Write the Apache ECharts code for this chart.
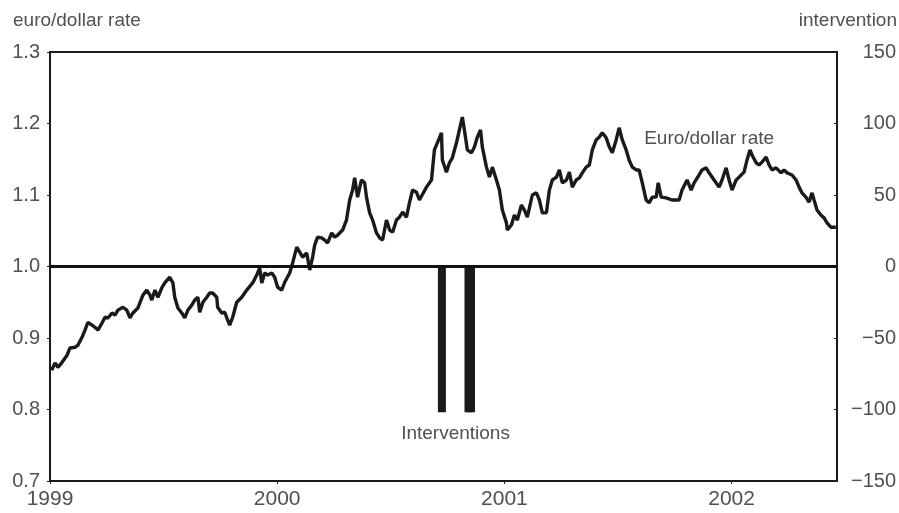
<!DOCTYPE html>
<html><head><meta charset="utf-8">
<script src="https://cdn.jsdelivr.net/npm/echarts@6/dist/echarts.min.js"></script>
<style>html,body{margin:0;padding:0;background:#fff;}#c{width:899px;height:513px;}</style>
</head><body><div id="c"></div>
<script>
// Decimal-year positions and euro/dollar rate values
const rateYears = [
1999.007,1999.022,1999.035,1999.053,1999.075,1999.088,1999.110,1999.123,1999.141,1999.154,1999.167,1999.185,1999.198,1999.211,1999.229,1999.242,1999.255,1999.273,1999.286,1999.299,1999.321,1999.338,1999.352,1999.365,1999.387,1999.409,1999.426,1999.440,1999.448,1999.462,1999.475,1999.492,1999.505,1999.527,1999.541,1999.549,1999.563,1999.580,1999.593,1999.607,1999.624,1999.637,1999.651,1999.659,1999.673,1999.690,1999.703,1999.716,1999.734,1999.738,1999.756,1999.769,1999.782,1999.791,1999.804,1999.822,1999.844,
1999.866,1999.892,1999.910,1999.923,1999.932,1999.945,1999.958,1999.976,1999.989,2000.002,2000.020,2000.033,2000.055,2000.068,2000.086,2000.099,2000.112,2000.130,2000.143,2000.156,2000.165,2000.178,2000.196,2000.209,2000.222,2000.240,2000.253,2000.266,2000.288,2000.305,2000.319,2000.332,2000.341,2000.354,2000.371,2000.385,2000.393,2000.407,2000.420,2000.437,2000.451,2000.464,2000.481,2000.495,2000.508,2000.525,2000.538,2000.552,2000.569,2000.582,2000.596,2000.613,2000.626,
2000.657,2000.679,2000.692,2000.705,2000.723,2000.727,2000.745,2000.758,2000.771,2000.789,2000.802,2000.815,2000.824,2000.837,2000.855,2000.868,2000.881,2000.895,2000.903,2000.921,2000.934,2000.947,2000.965,2000.978,2000.991,2001.009,2001.013,2001.031,2001.044,2001.057,2001.075,2001.088,2001.101,2001.123,2001.141,2001.154,2001.167,2001.185,2001.198,2001.211,2001.229,2001.242,2001.255,2001.273,2001.286,2001.299,2001.316,2001.330,2001.343,2001.360,2001.374,2001.387,2001.404,
2001.418,2001.431,2001.448,2001.462,2001.475,2001.492,2001.505,2001.519,2001.536,2001.549,2001.563,2001.580,2001.593,2001.607,2001.624,2001.637,2001.651,2001.668,2001.677,2001.690,2001.712,2001.738,2001.769,2001.782,2001.804,2001.822,2001.835,2001.857,2001.870,2001.888,2001.901,2001.923,2001.945,2001.958,2001.976,2001.989,2002.002,2002.020,2002.033,2002.055,2002.068,2002.081,2002.090,2002.108,2002.121,2002.134,2002.152,2002.165,2002.178,2002.196,2002.218,2002.231,2002.244,2002.266,2002.284,2002.297,2002.310,2002.327,2002.341,2002.354,2002.363,2002.376,2002.393,2002.407,2002.420,2002.437,2002.451,2002.459
];
const rateValues = [
0.855,0.865,0.859,0.866,0.876,0.886,0.887,0.890,0.901,0.911,0.922,0.918,0.915,0.911,0.921,0.929,0.928,0.935,0.932,0.939,0.943,0.939,0.928,0.935,0.942,0.960,0.967,0.960,0.953,0.967,0.957,0.970,0.977,0.985,0.977,0.957,0.942,0.935,0.928,0.939,0.946,0.953,0.957,0.936,0.950,0.957,0.963,0.963,0.957,0.943,0.935,0.936,0.925,0.918,0.929,0.950,0.957,
0.967,0.977,0.988,0.998,0.977,0.991,0.988,0.991,0.985,0.971,0.967,0.978,0.991,1.005,1.027,1.020,1.013,1.019,0.995,1.013,1.030,1.041,1.040,1.037,1.033,1.047,1.041,1.044,1.051,1.065,1.093,1.107,1.124,1.097,1.121,1.117,1.097,1.075,1.065,1.047,1.040,1.037,1.065,1.051,1.048,1.065,1.069,1.076,1.069,1.089,1.107,1.104,1.093,
1.111,1.121,1.163,1.173,1.187,1.149,1.132,1.145,1.152,1.173,1.191,1.209,1.191,1.163,1.159,1.167,1.181,1.191,1.167,1.139,1.125,1.139,1.121,1.107,1.079,1.061,1.051,1.058,1.072,1.065,1.086,1.079,1.069,1.100,1.103,1.093,1.075,1.075,1.107,1.121,1.125,1.135,1.117,1.121,1.132,1.111,1.121,1.124,1.131,1.139,1.142,1.163,1.177,
1.181,1.187,1.180,1.167,1.159,1.177,1.194,1.177,1.163,1.149,1.139,1.135,1.135,1.117,1.093,1.089,1.097,1.097,1.117,1.097,1.096,1.093,1.093,1.107,1.121,1.107,1.117,1.128,1.135,1.138,1.131,1.121,1.111,1.121,1.138,1.121,1.107,1.121,1.125,1.132,1.149,1.163,1.156,1.145,1.142,1.146,1.153,1.142,1.135,1.138,1.131,1.135,1.131,1.128,1.121,1.111,1.103,1.097,1.090,1.103,1.093,1.079,1.072,1.068,1.061,1.055,1.055,1.055
];
// Interventions (decimal year, amount)
const interventionYears = [2000.725, 2000.842, 2000.853];
const interventionValues = [-102, -102, -102];
// Axis ranges / ticks
const xYears = [1999, 2000, 2001, 2002];
const rateTicks = [0.7, 0.8, 0.9, 1.0, 1.1, 1.2, 1.3];
const interventionTicks = [-150, -100, -50, 0, 50, 100, 150];
const xEnd = 2002.464;

const txt = '#505050';
const font = 'Liberation Sans, Arial, Helvetica, sans-serif';
const chart = echarts.init(document.getElementById('c'), null, {renderer: 'canvas'});
chart.setOption({
  animation: false,
  backgroundColor: '#fff',
  graphic: [
    {type: 'text', left: 13, top: 11, style: {text: 'euro/dollar rate', fill: txt, font: '19px Liberation Sans, Arial, sans-serif'}},
    {type: 'text', right: 2, top: 11, style: {text: 'intervention', fill: txt, font: '19px Liberation Sans, Arial, sans-serif'}}
  ],
  grid: {left: 50, right: 61, top: 52, bottom: 32, show: true, borderColor: '#1a1a1a', borderWidth: 2, backgroundColor: 'transparent'},
  xAxis: {
    type: 'value', min: xYears[0], max: xEnd, interval: 1,
    splitLine: {show: false},
    axisLine: {show: true, onZero: false, lineStyle: {color: '#1a1a1a', width: 2}},
    axisTick: {show: true, length: 3, lineStyle: {color: '#1a1a1a'}},
    axisLabel: {showMaxLabel: false, color: txt, fontFamily: font, fontSize: 21, margin: 8, formatter: v => String(v)}
  },
  yAxis: [{
    type: 'value', min: rateTicks[0], max: rateTicks[rateTicks.length-1], interval: 0.1,
    splitLine: {show: false},
    axisLine: {show: true, lineStyle: {color: '#1a1a1a', width: 2}},
    axisTick: {show: true, length: 3, lineStyle: {color: '#1a1a1a'}},
    axisLabel: {color: txt, fontFamily: font, fontSize: 20, margin: 10, formatter: v => v.toFixed(1)}
  }, {
    type: 'value', position: 'right', min: interventionTicks[0], max: interventionTicks[interventionTicks.length-1], interval: 50,
    splitLine: {show: false},
    axisLine: {show: true, lineStyle: {color: '#1a1a1a', width: 2}},
    axisTick: {show: true, inside: true, length: 3, lineStyle: {color: '#1a1a1a'}},
    axisLabel: {color: txt, fontFamily: font, fontSize: 20, margin: 59, align: 'right', formatter: v => String(v).replace('-', '\u2212')}
  }],
  series: [{
    type: 'line', xAxisIndex: 0, yAxisIndex: 0,
    data: rateYears.map((y, i) => [y, rateValues[i]]),
    showSymbol: false, symbol: 'none',
    lineStyle: {color: '#1a1a1a', width: 3.4},
    markLine: {silent: true, symbol: 'none', label: {show: false},
      lineStyle: {color: '#111', width: 3, type: 'solid'},
      data: [{yAxis: 1.0}]},
    markPoint: {symbol: 'circle', symbolSize: 0,
      label: {show: true, color: txt, fontFamily: font, fontSize: 19, position: 'inside'},
      data: [{coord: [2001.901, 1.179], value: 'Euro/dollar rate'}]}
  }, {
    type: 'bar', xAxisIndex: 0, yAxisIndex: 1,
    data: interventionYears.map((y, i) => [y, interventionValues[i]]),
    barWidth: 8, itemStyle: {color: '#1a1a1a'},
    markPoint: {symbol: 'circle', symbolSize: 0,
      label: {show: true, color: txt, fontFamily: font, fontSize: 19, position: 'inside'},
      data: [{coord: [2000.785, -117], value: 'Interventions'}]}
  }]
});
</script></body></html>
